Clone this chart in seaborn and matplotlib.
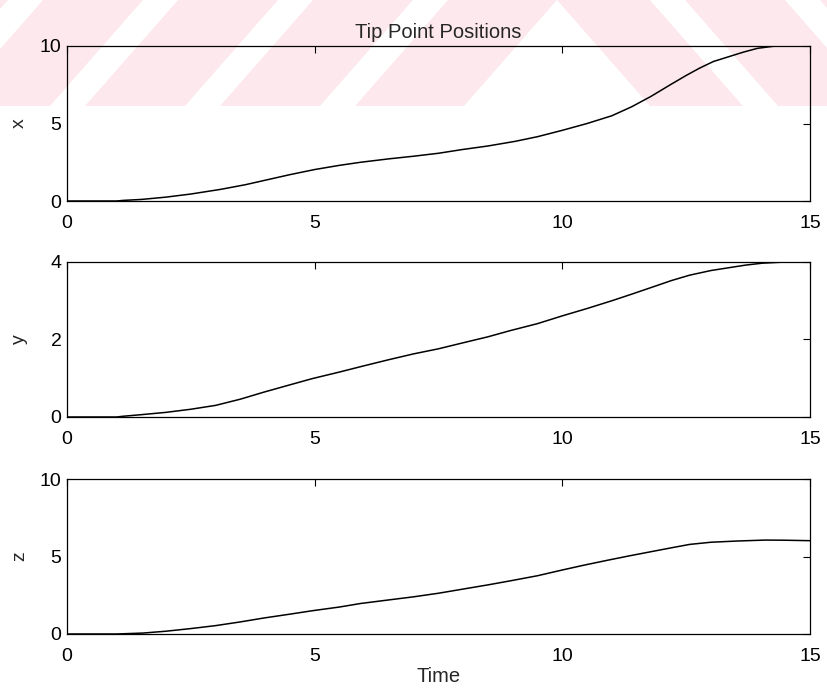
import matplotlib
matplotlib.use("Agg")
import matplotlib.pyplot as plt
from matplotlib.patches import Polygon, Rectangle
import seaborn as sns

# Tip point trajectory samples
x_time = [0, 1.0, 1.14, 1.5, 2.0, 2.5, 3.1, 3.6, 4.07, 4.5, 5.0, 5.5, 5.93, 6.5,
          7.0, 7.5, 7.98, 8.5, 9.05, 9.5, 10.0, 10.5, 11.0, 11.4, 11.79, 12.18,
          12.5, 12.77, 13.05, 13.35, 13.65, 13.94, 14.3, 14.6]
x_pos = [0, 0, 0.04, 0.1, 0.25, 0.45, 0.75, 1.05, 1.39, 1.7, 2.03, 2.3, 2.5,
         2.72, 2.89, 3.08, 3.32, 3.55, 3.85, 4.15, 4.56, 5.0, 5.5, 6.08, 6.75,
         7.5, 8.1, 8.57, 9.0, 9.3, 9.6, 9.85, 10.0, 10.0]

y_time = [0, 1.0, 1.14, 1.5, 2.0, 2.5, 3.0, 3.5, 3.97, 4.5, 4.95, 5.5, 5.93, 6.5,
          7.0, 7.5, 7.98, 8.5, 8.95, 9.5, 10.0, 10.5, 11.0, 11.4, 11.79, 12.2,
          12.57, 13.0, 13.35, 13.7, 14.04, 14.5]
y_pos = [0, 0, 0.02, 0.06, 0.12, 0.2, 0.30, 0.46, 0.64, 0.83, 0.99, 1.16, 1.30,
         1.48, 1.63, 1.76, 1.91, 2.07, 2.23, 2.41, 2.61, 2.8, 3.0, 3.17, 3.34,
         3.52, 3.66, 3.78, 3.85, 3.92, 3.97, 4.0]

z_time = [0, 1.0, 1.53, 2.0, 2.5, 3.0, 3.5, 3.97, 4.5, 4.95, 5.5, 5.93, 6.5, 7.0,
          7.5, 7.98, 8.5, 8.95, 9.5, 10.0, 10.45, 10.9, 11.35, 11.79, 12.2, 12.57,
          13.0, 13.54, 14.1, 14.5, 15.0]
z_pos = [0, 0, 0.06, 0.18, 0.35, 0.54, 0.78, 1.03, 1.28, 1.5, 1.74, 1.97, 2.2,
         2.4, 2.63, 2.89, 3.17, 3.43, 3.76, 4.13, 4.45, 4.75, 5.04, 5.31, 5.56,
         5.78, 5.92, 6.0, 6.06, 6.05, 6.02]

x_ticks = [0, 5, 10, 15]
panel_names = ["x", "y", "z"]
panel_yticks = [[0, 5, 10], [0, 2, 4], [0, 5, 10]]
title_text = "Tip Point Positions"
time_label = "Time"

sns.set_style("white")
plt.rcParams["font.family"] = ["Liberation Sans", "DejaVu Sans"]
plt.rcParams["axes.edgecolor"] = "black"
plt.rcParams["axes.linewidth"] = 0.9

W, H = 828, 690
fig = plt.figure(figsize=(W / 100, H / 100), dpi=100)

# Faint pink striped band across the top of the page
bg = fig.add_axes([0, 0, 1, 1], zorder=0)
bg.set_xlim(0, W)
bg.set_ylim(H, 0)
bg.axis("off")
pink = "#fde9ed"
band = 106
bg.add_patch(Rectangle((0, 0), W, band, color=pink, lw=0))
dx = 93
sw = 35
for b in [-85, 50, 185, 320]:
    bg.add_patch(Polygon([(b, band), (b + sw, band), (b + sw + dx, 0), (b + dx, 0)],
                         color="white", lw=0))
bg.add_patch(Polygon([(464, band), (650, band), (557, 0)], color="white", lw=0))
for t in [650, 785]:
    bg.add_patch(Polygon([(t, 0), (t + sw, 0), (t + sw + dx, band), (t + dx, band)],
                         color="white", lw=0))

left = 67 / W
width = 743 / W
tops = [46, 262, 479]
h = 155

series = [(x_time, x_pos), (y_time, y_pos), (z_time, z_pos)]
axes = []
for i, (tt, vv) in enumerate(series):
    ax = fig.add_axes([left, 1 - (tops[i] + h) / H, width, h / H], zorder=1)
    ax.set_facecolor("none")
    sns.lineplot(x=tt, y=vv, ax=ax, color="black", linewidth=1.1)
    yt = panel_yticks[i]
    ax.set_xlim(x_ticks[0], x_ticks[-1])
    ax.set_ylim(yt[0], yt[-1])
    ax.set_xticks(x_ticks)
    ax.set_yticks(yt)
    ax.set_xticklabels([str(v) for v in x_ticks])
    ax.set_yticklabels([str(v) for v in yt])
    ax.tick_params(direction="in", length=5, width=0.8, top=True, right=True,
                   labelsize=14, colors="black")
    ax.tick_params(axis="x", pad=10)
    ax.tick_params(axis="y", pad=4)
    for s in ax.spines.values():
        s.set_visible(True)
        s.set_color("black")
    ax.set_ylabel(panel_names[i], fontsize=14)
    ax.yaxis.set_label_coords(-(67 - 28) / 743, 0.5)
    ax.set_xlabel("")
    axes.append(ax)

axes[0].set_title(title_text, fontsize=14.5, pad=6)
axes[-1].set_xlabel(time_label, fontsize=14.5)
axes[-1].xaxis.set_label_coords(0.5, -(667 - 634) / h)

fig.savefig("out.png", dpi=100)
